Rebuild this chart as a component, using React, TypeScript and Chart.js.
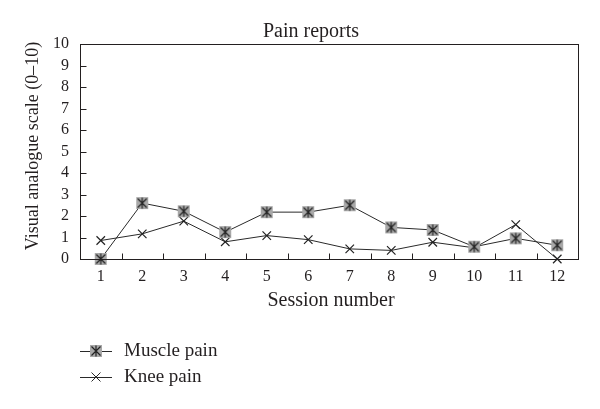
import React, { useEffect, useRef } from "react";
import { Chart, registerables } from "chart.js";

Chart.register(...registerables);

const sessions = ["1", "2", "3", "4", "5", "6", "7", "8", "9", "10", "11", "12"];
const musclePain = [0, 2.6, 2.22, 1.25, 2.18, 2.18, 2.5, 1.47, 1.35, 0.57, 0.96, 0.64];
const kneePain = [0.86, 1.17, 1.76, 0.8, 1.09, 0.9, 0.47, 0.4, 0.78, 0.52, 1.6, 0];
const yTicks = [0, 1, 2, 3, 4, 5, 6, 7, 8, 9, 10];

const FONT = "'Liberation Serif', 'DejaVu Serif', serif";
const TICK_FS = 16;
const INK = "#231f20";
const LINE = "#2a2a2a";

function makeMuscleMarker(): HTMLCanvasElement {
  const c = document.createElement("canvas");
  c.width = 14;
  c.height = 14;
  const g = c.getContext("2d")!;
  g.fillStyle = "#a8a8a8";
  g.fillRect(1, 1, 12, 12);
  g.strokeStyle = "#222";
  g.lineWidth = 1.2;
  g.beginPath();
  g.moveTo(2.5, 2.5);
  g.lineTo(11.5, 11.5);
  g.moveTo(11.5, 2.5);
  g.lineTo(2.5, 11.5);
  g.moveTo(7, 1.5);
  g.lineTo(7, 12.5);
  g.stroke();
  return c;
}

export default function App() {
  const ref = useRef<HTMLCanvasElement | null>(null);

  useEffect(() => {
    document.body.style.margin = "0";
    const canvas = ref.current!;
    const marker = makeMuscleMarker();

    const decor = {
      id: "decor",
      afterDraw(chart: any) {
        const ctx = chart.ctx as CanvasRenderingContext2D;
        const { left, right, top, bottom } = chart.chartArea;
        const xs = chart.scales.x;
        const ys = chart.scales.y;
        ctx.save();
        ctx.strokeStyle = INK;
        ctx.lineWidth = 1;
        const L = Math.round(left) + 0.5;
        const R = Math.round(right) + 0.5;
        const T = Math.round(top) + 0.5;
        const B = Math.round(bottom) + 0.5;
        ctx.strokeRect(L, T, R - L, B - T);
        ctx.beginPath();
        yTicks.forEach((v) => {
          const y = Math.round(ys.getPixelForValue(v)) + 0.5;
          ctx.moveTo(L, y);
          ctx.lineTo(L + 6, y);
        });
        for (let i = 1; i < sessions.length; i++) {
          const x = Math.round((xs.getPixelForValue(i - 1) + xs.getPixelForValue(i)) / 2) + 0.5;
          ctx.moveTo(x, B);
          ctx.lineTo(x, B - 6);
        }
        ctx.stroke();

        ctx.fillStyle = INK;
        ctx.textAlign = "center";
        ctx.textBaseline = "alphabetic";
        ctx.font = `20px ${FONT}`;
        ctx.fillText("Pain reports", 311, 37);
        ctx.fillText("Session number", 331, 306);

        ctx.save();
        ctx.font = `18px ${FONT}`;
        ctx.translate(38, 146);
        ctx.rotate(-Math.PI / 2);
        ctx.fillText("Visual analogue scale (0\u201310)", 0, 0);
        ctx.restore();

        // legend
        const items = [
          { label: "Muscle pain", y: 351, muscle: true },
          { label: "Knee pain", y: 377, muscle: false },
        ];
        ctx.font = `19px ${FONT}`;
        items.forEach((it) => {
          ctx.strokeStyle = LINE;
          ctx.lineWidth = 1;
          ctx.beginPath();
          ctx.moveTo(80, it.y + 0.5);
          ctx.lineTo(112, it.y + 0.5);
          ctx.stroke();
          if (it.muscle) {
            ctx.drawImage(marker, 96 - 7, it.y - 7);
          } else {
            ctx.beginPath();
            ctx.moveTo(91.5, it.y - 4.5);
            ctx.lineTo(100.5, it.y + 4.5);
            ctx.moveTo(100.5, it.y - 4.5);
            ctx.lineTo(91.5, it.y + 4.5);
            ctx.stroke();
          }
          ctx.fillStyle = INK;
          ctx.textAlign = "left";
          ctx.textBaseline = "middle";
          ctx.fillText(it.label, 124, it.y);
        });
        ctx.restore();
      },
    };

    const chart = new Chart(canvas, {
      type: "line",
      data: {
        labels: sessions,
        datasets: [
          {
            label: "Muscle pain",
            data: musclePain,
            borderColor: LINE,
            borderWidth: 1,
            pointStyle: marker as any,
            pointRadius: 7,
            tension: 0,
            clip: false as any,
          },
          {
            label: "Knee pain",
            data: kneePain,
            borderColor: LINE,
            borderWidth: 1,
            pointStyle: "crossRot",
            pointRadius: 6,
            pointBorderColor: "#222",
            pointBorderWidth: 1.2,
            tension: 0,
            clip: false as any,
          },
        ],
      },
      options: {
        animation: false,
        responsive: false,
        devicePixelRatio: 1,
        layout: { padding: { left: 0, right: 22, top: 44, bottom: 120 } },
        plugins: {
          legend: { display: false },
          title: { display: false },
          tooltip: { enabled: false },
        },
        scales: {
          x: {
            offset: true,
            grid: { display: false, drawTicks: false },
            border: { display: false },
            ticks: { color: INK, font: { family: FONT, size: TICK_FS }, padding: 8, maxRotation: 0, autoSkip: false },
            afterFit(scale: any) {
              scale.height = 30;
            },
          },
          y: {
            min: 0,
            max: 10,
            grid: { display: false, drawTicks: false },
            border: { display: false },
            ticks: { stepSize: 1, autoSkip: false, color: INK, font: { family: FONT, size: TICK_FS }, padding: 11 },
            afterFit(scale: any) {
              scale.width = 80;
            },
          },
        },
      },
      plugins: [decor],
    });
    return () => chart.destroy();
  }, []);

  return (
    <div style={{ position: "absolute", left: 0, top: 0, width: 600, height: 409, background: "#fff" }}>
      <canvas ref={ref} width={600} height={409} style={{ width: 600, height: 409 }} />
    </div>
  );
}
